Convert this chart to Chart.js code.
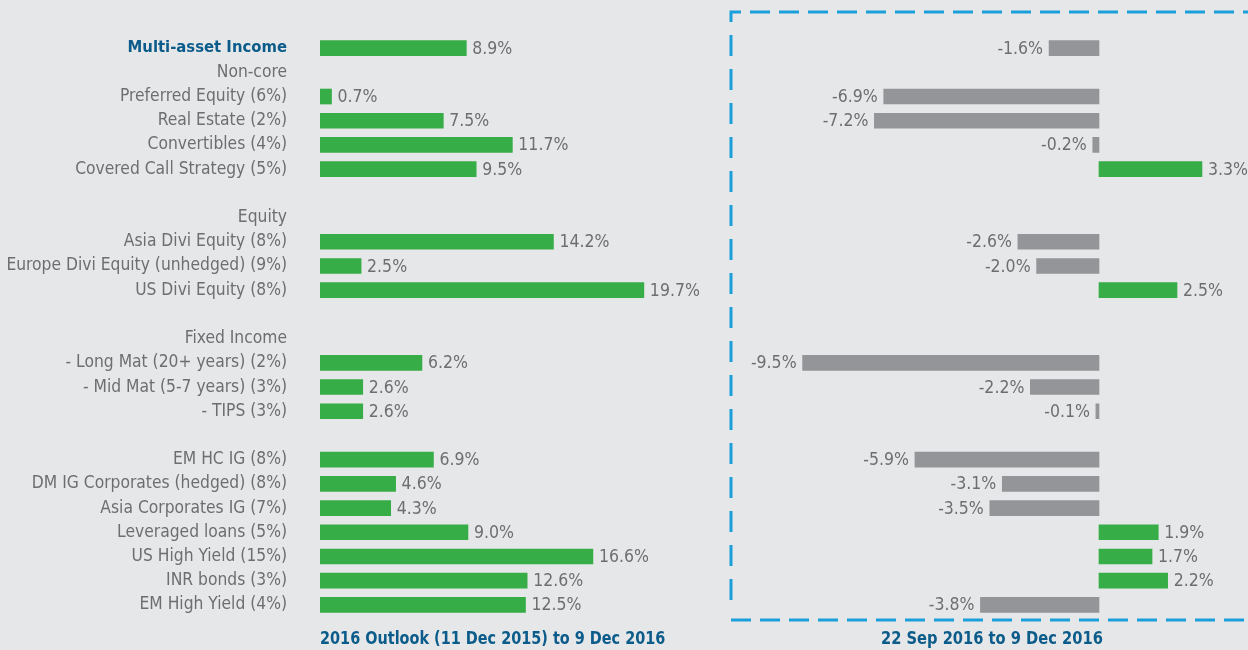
<!DOCTYPE html>
<html>
<head>
<meta charset="utf-8">
<script src="https://cdn.jsdelivr.net/npm/chart.js@4.4.1/dist/chart.umd.min.js"></script>
<style>
  html, body { margin:0; padding:0; background:#e6e7e8; }
  #wrap { position:relative; width:1248px; height:650px; overflow:hidden; background:#e6e7e8; }
  canvas { position:absolute; left:0; top:0; }
  .ttl { position:absolute; top:627px; font-family:'DejaVu Sans Condensed','DejaVu Sans',sans-serif; font-weight:bold; font-size:18px; color:#0b5c8a; white-space:nowrap; transform-origin:0 50%; }
</style>
</head>
<body>
<div id="wrap">
  <canvas id="left" width="1248" height="650"></canvas>
  <canvas id="right" width="1248" height="650"></canvas>
  <div class="ttl" id="t1" style="left:320px;"></div>
  <div class="ttl" id="t2" style="left:881px;"></div>
</div>
<script>
const categories = [
  'Multi-asset Income', 'Non-core', 'Preferred Equity (6%)', 'Real Estate (2%)', 'Convertibles (4%)',
  'Covered Call Strategy (5%)', '', 'Equity', 'Asia Divi Equity (8%)', 'Europe Divi Equity (unhedged) (9%)',
  'US Divi Equity (8%)', '', 'Fixed Income', '- Long Mat (20+ years) (2%)', '- Mid Mat (5-7 years) (3%)',
  '- TIPS (3%)', '', 'EM HC IG (8%)', 'DM IG Corporates (hedged) (8%)', 'Asia Corporates IG (7%)',
  'Leveraged loans (5%)', 'US High Yield (15%)', 'INR bonds (3%)', 'EM High Yield (4%)'
];
const outlookReturns = [8.9, null, 0.7, 7.5, 11.7, 9.5, null, null, 14.2, 2.5, 19.7, null, null, 6.2, 2.6, 2.6, null, 6.9, 4.6, 4.3, 9.0, 16.6, 12.6, 12.5];
const recentReturns  = [-1.6, null, -6.9, -7.2, -0.2, 3.3, null, null, -2.6, -2.0, 2.5, null, null, -9.5, -2.2, -0.1, null, -5.9, -3.1, -3.5, 1.9, 1.7, 2.2, -3.8];
const periodTitles = ['2016 Outlook (11 Dec 2015) to 9 Dec 2016', '22 Sep 2016 to 9 Dec 2016'];

const FONT = "'DejaVu Sans Condensed','DejaVu Sans',sans-serif";
const GREEN = '#36ad47', GREY = '#939598', TEXT = '#6d6e71', BLUE = '#0b5c8a';

// bottom period titles (real text), squeezed horizontally to mimic the condensed face
const t1 = document.getElementById('t1'), t2 = document.getElementById('t2');
t1.textContent = periodTitles[0];
t2.textContent = periodTitles[1];
t1.style.transform = 'scaleX(' + (345 / t1.offsetWidth) + ')';
t2.style.transform = 'scaleX(' + (222 / t2.offsetWidth) + ')';

const valueLabels = {
  id: 'valueLabels',
  afterDatasetsDraw(chart) {
    const ctx = chart.ctx;
    const data = chart.data.datasets[0].data;
    const meta = chart.getDatasetMeta(0);
    ctx.save();
    ctx.font = '17.5px ' + FONT;
    ctx.fillStyle = TEXT;
    ctx.textBaseline = 'middle';
    meta.data.forEach((bar, i) => {
      const v = data[i];
      if (v === null || v === undefined) return;
      const txt = v.toFixed(1) + '%';
      if (v >= 0) { ctx.textAlign = 'left'; ctx.fillText(txt, bar.x + 6, bar.y + 1); }
      else { ctx.textAlign = 'right'; ctx.fillText(txt, bar.x - 6, bar.y + 1); }
    });
    ctx.restore();
  }
};

const dashedBox = {
  id: 'dashedBox',
  beforeDatasetsDraw(chart) {
    const ctx = chart.ctx;
    ctx.save();
    ctx.strokeStyle = '#1a9fdb';
    ctx.lineWidth = 3;
    ctx.setLineDash([20, 9]);
    ctx.beginPath();
    ctx.moveTo(731, 22); ctx.lineTo(731, 12); ctx.lineTo(1260, 12);
    ctx.stroke();
    ctx.beginPath();
    ctx.moveTo(731, 620); ctx.lineTo(1260, 620);
    ctx.stroke();
    ctx.setLineDash([21, 13]);
    ctx.beginPath();
    ctx.moveTo(731, 35); ctx.lineTo(731, 612);
    ctx.stroke();
    ctx.restore();
  }
};

Chart.defaults.animation = false;
Chart.defaults.font.family = FONT;

new Chart(document.getElementById('left'), {
  type: 'bar',
  data: { labels: categories, datasets: [{ data: outlookReturns, backgroundColor: GREEN, barThickness: 15 }] },
  options: {
    responsive: false, indexAxis: 'y',
    layout: { padding: { top: 36, bottom: 33, left: 0, right: 517 } },
    plugins: { legend: { display: false }, tooltip: { enabled: false } },
    scales: {
      x: { display: false, min: 0, max: 25 },
      y: {
        grid: { display: false, drawTicks: false }, border: { display: false },
        afterFit(scale) { scale.width = 320; scale.paddingTop = 0; scale.paddingBottom = 0; },
        ticks: {
          padding: 33, autoSkip: false,
          color: (c) => c.index === 0 ? BLUE : TEXT,
          font: (c) => c.index === 0 ? { size: 16.5, weight: 'bold', family: FONT } : { size: 17.3, family: FONT }
        }
      }
    }
  },
  plugins: [valueLabels]
});

new Chart(document.getElementById('right'), {
  type: 'bar',
  data: { labels: categories, datasets: [{ data: recentReturns,
    backgroundColor: recentReturns.map(v => v !== null && v > 0 ? GREEN : GREY), barThickness: 15 }] },
  options: {
    responsive: false, indexAxis: 'y',
    layout: { padding: { top: 36, bottom: 33, left: 755.8, right: 8.6 } },
    plugins: { legend: { display: false }, tooltip: { enabled: false } },
    scales: {
      x: { display: false, min: -11, max: 4.5 },
      y: { display: false }
    }
  },
  plugins: [dashedBox, valueLabels]
});
</script>
</body>
</html>
